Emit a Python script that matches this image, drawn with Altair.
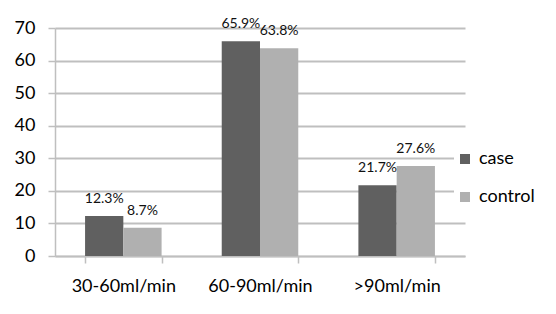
import altair as alt
import pandas as pd

categories = ["30-60ml/min", "60-90ml/min", ">90ml/min"]
groups = ["case", "control"]
case_values = [12.3, 65.9, 21.7]
control_values = [8.7, 63.8, 27.6]
y_ticks = [0, 10, 20, 30, 40, 50, 60, 70]

rows = []
for c, a, b in zip(categories, case_values, control_values):
    rows.append({"cat": c, "group": "case", "value": a, "label": f"{a}%"})
    rows.append({"cat": c, "group": "control", "value": b, "label": f"{b}%"})
df = pd.DataFrame(rows)

FONT = "Lato"
GRID = "#bfbfbf"

x = alt.X("cat:N", sort=categories, title=None,
          scale=alt.Scale(paddingInner=0.44, paddingOuter=0.22),
          axis=alt.Axis(labelAngle=0, labelFontSize=18, labelFont=FONT, labelColor="#000000",
                        labelPadding=14, tickBand="extent", tickSize=7, tickColor=GRID,
                        tickWidth=1.5, domainColor=GRID, domainWidth=1.5, grid=False))
xo = alt.XOffset("group:N", sort=groups, scale=alt.Scale(paddingInner=0, paddingOuter=0))
y = alt.Y("value:Q", title=None,
          scale=alt.Scale(domain=[0, 70], nice=False),
          axis=alt.Axis(values=y_ticks, labelOverlap=False, labelFontSize=18, labelFont=FONT,
                        labelColor="#000000", labelPadding=13, tickSize=7, tickColor=GRID,
                        tickWidth=1.5, domainColor=GRID, domainWidth=1.5,
                        gridColor=GRID, gridWidth=2))

bars = alt.Chart(df).mark_bar().encode(
    x=x, xOffset=xo, y=y,
    color=alt.Color("group:N", sort=groups,
                    scale=alt.Scale(domain=groups, range=["#606060", "#b0b0b0"]),
                    legend=alt.Legend(title=None, orient="none", legendX=399, legendY=120,
                                      symbolType="square", symbolSize=100, symbolStrokeWidth=0,
                                      labelFontSize=18, labelFont=FONT, labelColor="#000000",
                                      rowPadding=20, labelOffset=5,
                                      fillColor="white", padding=2)),
)

texts = alt.Chart(df).mark_text(baseline="alphabetic", dy=-13, fontSize=14, font=FONT,
                                color="#111111").encode(
    x=x, xOffset=xo, y=y, text="label:N")

chart = alt.layer(bars, texts).properties(
    width=410, height=228,
    autosize=alt.AutoSizeParams(type="none"),
    padding={"left": 47, "top": 20, "right": 83, "bottom": 50},
).configure_view(stroke=None)

chart.save("out.html", embed_options={"renderer": "svg", "actions": False})
